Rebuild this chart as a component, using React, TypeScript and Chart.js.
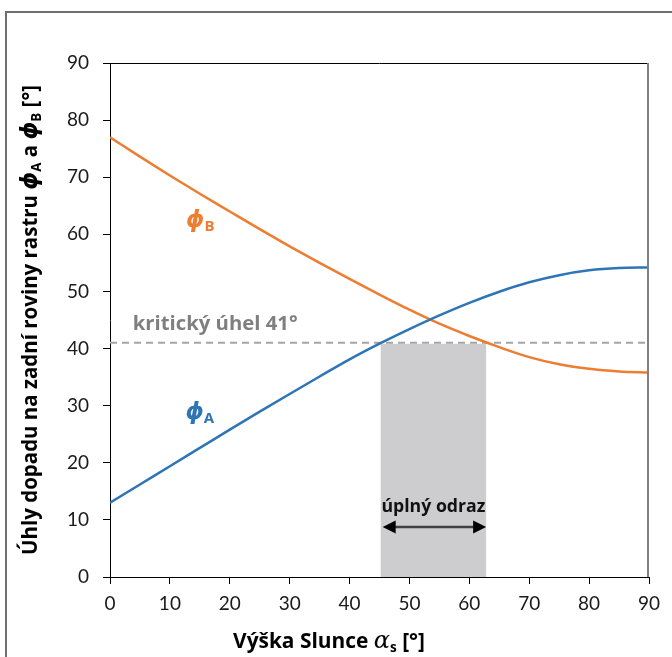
import React, { useEffect, useRef } from "react";
import { Chart, registerables } from "chart.js";

Chart.register(...registerables);

// ---- data ----
const ALTITUDE = [0, 5, 10, 15, 20, 25, 30, 35, 40, 45, 50, 55, 60, 65, 70, 75, 80, 85, 90];
const PHI_A = [13.0, 16.2, 19.4, 22.6, 25.8, 28.95, 32.05, 35.1, 38.1, 40.85, 43.4, 45.8, 48.0, 49.95, 51.6, 52.85, 53.7, 54.1, 54.2];
const PHI_B = [77.0, 73.6, 70.3, 67.1, 64.0, 60.9, 57.9, 55.0, 52.2, 49.45, 46.8, 44.35, 42.2, 40.25, 38.5, 37.25, 36.45, 36.0, 35.8];
const CRITICAL_ANGLE = 41;
const TOTAL_REFLECTION = [45.2, 62.8];
const X_RANGE = [0, 90];
const Y_RANGE = [0, 90];
const TICK_STEP = 10;

const BLUE = "#2E75B6";
const ORANGE = "#ED7D31";
const GRAY_TEXT = "#7F7F7F";
const TICK_FONT = "Lato, 'Open Sans', sans-serif";
const BOLD_FAMILY = "'Open Sans', Lato, sans-serif";

type Seg = { t: string; style: string; size: number; family: string; dy?: number };

function fontOf(s: Seg, k: number) {
  return `${s.style} ${s.size * k}px ${s.family}`;
}

function drawRich(
  ctx: CanvasRenderingContext2D,
  segs: Seg[],
  x: number,
  y: number,
  align: "left" | "center",
  color: string,
  targetWidth?: number
) {
  const measure = (k: number) =>
    segs.map((s) => {
      ctx.font = fontOf(s, k);
      return ctx.measureText(s.t).width;
    });
  let k = 1;
  let widths = measure(1);
  let total = widths.reduce((a, b) => a + b, 0);
  if (targetWidth) {
    k = targetWidth / total;
    widths = measure(k);
    total = widths.reduce((a, b) => a + b, 0);
  }
  let cx = align === "center" ? x - total / 2 : x;
  ctx.textAlign = "left";
  ctx.textBaseline = "alphabetic";
  ctx.fillStyle = color;
  segs.forEach((s, i) => {
    ctx.font = fontOf(s, k);
    ctx.fillText(s.t, cx, y + (s.dy || 0) * k);
    cx += widths[i];
  });
}

const PHI = "\u03D5";
const phiSeg = (size: number): Seg => ({ t: PHI, style: "italic bold", size, family: "'DejaVu Sans', sans-serif" });
const boldSeg = (t: string, size: number, dy = 0): Seg => ({ t, style: "bold", size, family: BOLD_FAMILY, dy });

const overlayPlugin = {
  id: "overlay",
  beforeDatasetsDraw(chart: any) {
    const { ctx, scales } = chart;
    const xs = scales.x;
    const ys = scales.y;
    ctx.save();
    ctx.fillStyle = "#CDCDCF";
    const x0 = xs.getPixelForValue(TOTAL_REFLECTION[0]);
    const x1 = xs.getPixelForValue(TOTAL_REFLECTION[1]);
    const yTop = ys.getPixelForValue(CRITICAL_ANGLE);
    const yBot = ys.getPixelForValue(0);
    ctx.fillRect(x0, yTop + 1, x1 - x0, yBot - yTop - 1);
    ctx.restore();
  },
  afterDatasetsDraw(chart: any) {
    const { ctx, scales, chartArea } = chart;
    const xs = scales.x;
    const ys = scales.y;
    ctx.save();
    // frame: top black, right gray
    ctx.strokeStyle = "#000";
    ctx.lineWidth = 1;
    ctx.beginPath();
    ctx.moveTo(chartArea.left, Math.round(chartArea.top) + 0.5);
    ctx.lineTo(chartArea.right, Math.round(chartArea.top) + 0.5);
    ctx.stroke();
    ctx.strokeStyle = "#7F7F7F";
    ctx.lineWidth = 2;
    ctx.beginPath();
    ctx.moveTo(chartArea.right - 1, chartArea.top);
    ctx.lineTo(chartArea.right - 1, chartArea.bottom);
    ctx.stroke();

    // critical label
    drawRich(ctx, [boldSeg("kritický úhel " + CRITICAL_ANGLE + "°", 20)],
      xs.getPixelForValue(3.8), ys.getPixelForValue(43.3), "left", GRAY_TEXT, 165);

    // phi labels
    drawRich(ctx, [phiSeg(23), boldSeg("B", 15, 4)],
      xs.getPixelForValue(12.7), ys.getPixelForValue(61.2), "left", ORANGE);
    drawRich(ctx, [phiSeg(23), boldSeg("A", 15, 4)],
      xs.getPixelForValue(12.6), ys.getPixelForValue(27.6), "left", BLUE);

    // total reflection label + arrow
    const cx = xs.getPixelForValue((TOTAL_REFLECTION[0] + TOTAL_REFLECTION[1]) / 2);
    drawRich(ctx, [boldSeg("úplný odraz", 19)], cx, ys.getPixelForValue(11.3), "center", "#111", 104);
    const ax0 = xs.getPixelForValue(TOTAL_REFLECTION[0]) + 2;
    const ax1 = xs.getPixelForValue(TOTAL_REFLECTION[1]);
    const ay = ys.getPixelForValue(8.75);
    ctx.strokeStyle = "#404040";
    ctx.lineWidth = 2.5;
    ctx.beginPath();
    ctx.moveTo(ax0 + 8, ay);
    ctx.lineTo(ax1 - 8, ay);
    ctx.stroke();
    ctx.fillStyle = "#000";
    ctx.beginPath();
    ctx.moveTo(ax0, ay);
    ctx.lineTo(ax0 + 13, ay - 6.5);
    ctx.lineTo(ax0 + 13, ay + 6.5);
    ctx.closePath();
    ctx.fill();
    ctx.beginPath();
    ctx.moveTo(ax1, ay);
    ctx.lineTo(ax1 - 13, ay - 6.5);
    ctx.lineTo(ax1 - 13, ay + 6.5);
    ctx.closePath();
    ctx.fill();

    // axis titles
    drawRich(ctx, [
      boldSeg("Výška Slunce ", 20),
      { t: "α", style: "italic", size: 23, family: "'DejaVu Serif', serif" },
      boldSeg("s", 13, 4),
      boldSeg(" [°]", 20),
    ], 329, 648, "center", "#000", 192);

    ctx.translate(37, (chartArea.top + chartArea.bottom) / 2);
    ctx.rotate(-Math.PI / 2);
    drawRich(ctx, [
      boldSeg("Úhly dopadu na zadní roviny rastru ", 20),
      phiSeg(22),
      boldSeg("A", 13, 4),
      boldSeg(" a ", 20),
      phiSeg(22),
      boldSeg("B", 13, 4),
      boldSeg(" [°]", 20),
    ], 0, 0, "center", "#000", 470);
    ctx.restore();
  },
};

export default function App() {
  const ref = useRef<HTMLCanvasElement | null>(null);
  useEffect(() => {
    document.body.style.margin = "0";
    const canvas = ref.current!;
    const chart = new Chart(canvas, {
      type: "line",
      data: {
        datasets: [
          {
            label: "critical",
            data: X_RANGE.map((x) => ({ x, y: CRITICAL_ANGLE })),
            borderColor: "#A5A5A5",
            borderWidth: 2,
            borderDash: [7, 5],
            pointRadius: 0,
            order: 3,
          },
          {
            label: "phiB",
            data: ALTITUDE.map((x, i) => ({ x, y: PHI_B[i] })),
            borderColor: ORANGE,
            borderWidth: 2.5,
            pointRadius: 0,
            cubicInterpolationMode: "monotone",
            order: 2,
          },
          {
            label: "phiA",
            data: ALTITUDE.map((x, i) => ({ x, y: PHI_A[i] })),
            borderColor: BLUE,
            borderWidth: 2.5,
            pointRadius: 0,
            cubicInterpolationMode: "monotone",
            order: 1,
          },
        ],
      },
      options: {
        animation: false,
        responsive: false,
        devicePixelRatio: 1,
        layout: { padding: { top: 63, right: 23, left: 0, bottom: 0 } },
        plugins: { legend: { display: false }, tooltip: { enabled: false } },
        scales: {
          x: {
            type: "linear",
            min: X_RANGE[0],
            max: X_RANGE[1],
            ticks: { stepSize: TICK_STEP, color: "#1a1a1a", font: { family: TICK_FONT, size: 19 }, padding: 8, maxRotation: 0 },
            grid: { display: true, drawOnChartArea: false, tickLength: 7, color: "#000", tickColor: "#000" },
            border: { color: "#000", width: 1 },
            afterFit: (s: any) => { s.height = 80; },
          },
          y: {
            type: "linear",
            min: Y_RANGE[0],
            max: Y_RANGE[1],
            ticks: { stepSize: TICK_STEP, color: "#1a1a1a", font: { family: TICK_FONT, size: 19 }, padding: 14 },
            grid: { display: true, drawOnChartArea: false, tickLength: 7, color: "#000", tickColor: "#000" },
            border: { color: "#000", width: 1 },
            afterFit: (s: any) => { s.width = 110; },
          },
        },
      },
      plugins: [overlayPlugin],
    } as any);
    return () => chart.destroy();
  }, []);
  return (
    <div style={{ position: "absolute", left: 0, top: 0, width: 672, height: 657, background: "#fff", overflow: "hidden" }}>
      <div style={{ position: "absolute", left: 5, top: 11, width: 700, height: 700, border: "2px solid #6f6f6f", boxSizing: "border-box" }} />
      <canvas ref={ref} width={672} height={657} style={{ position: "absolute", left: 0, top: 0, width: 672, height: 657 }} />
    </div>
  );
}
